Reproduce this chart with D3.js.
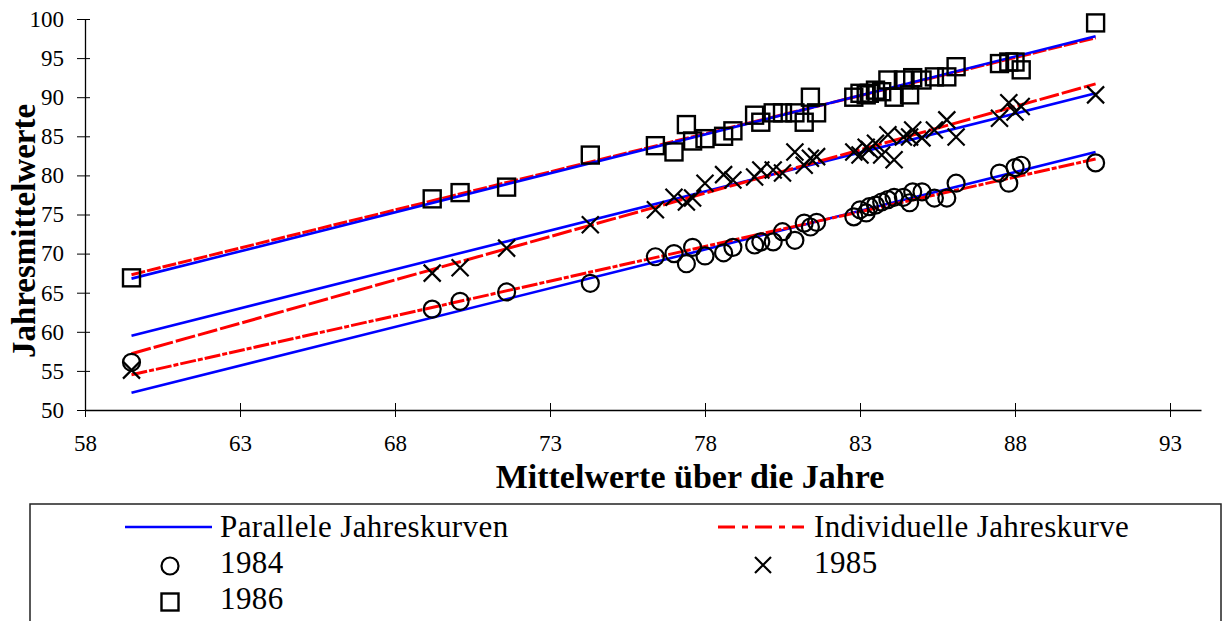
<!DOCTYPE html>
<html>
<head>
<meta charset="utf-8">
<script src="https://cdn.jsdelivr.net/npm/d3@7"></script>
<style>
body { margin: 0; background: #fff; }
svg { display: block; font-family: "Liberation Serif", "Times New Roman", serif; }
</style>
</head>
<body>
<script>
// mean over the years (x) and yearly means (y), one entry per unit
var xMean = [59.5, 69.2, 70.1, 71.6, 74.3, 76.4, 77.0, 77.4, 77.6, 78.0,
    78.6, 78.9, 79.6, 79.8, 80.2, 80.5, 80.9, 81.2, 81.4, 81.6,
    82.8, 83.0, 83.2, 83.3, 83.5, 83.7, 83.9, 84.1, 84.4, 84.6,
    84.7, 85.0, 85.4, 85.8, 86.1, 87.5, 87.8, 88.0, 88.2, 90.6];
var y1984 = [56.1, 62.9, 63.9, 65.1, 66.2, 69.6, 70.0, 68.7, 70.8, 69.7,
    70.1, 70.8, 71.1, 71.5, 71.5, 72.8, 71.7, 73.9, 73.4, 74.0,
    74.7, 75.6, 75.2, 76.0, 76.2, 76.6, 76.9, 77.2, 77.2, 76.5,
    77.9, 77.9, 77.1, 77.1, 79.0, 80.3, 79.0, 81.0, 81.3, 81.6];
var y1985 = [55.1, 67.5, 68.2, 70.7, 73.7, 75.6, 77.2, 76.6, 77.1, 79.0,
    80.1, 79.4, 79.8, 80.7, 80.7, 80.3, 83.0, 81.3, 82.2, 82.4,
    83.0, 82.6, 83.6, 83.3, 84.1, 82.6, 85.2, 82.0, 84.9, 84.9,
    85.8, 84.8, 85.8, 87.1, 84.9, 87.3, 89.3, 88.1, 88.8, 90.3];
var y1986 = [66.9, 77.0, 77.8, 78.5, 82.6, 83.8, 83.0, 86.5, 84.4, 84.7,
    85.0, 85.7, 87.7, 86.8, 88.0, 88.0, 88.0, 86.8, 90.0, 88.0,
    90.0, 90.5, 90.3, 90.5, 90.9, 90.7, 92.2, 90.0, 92.2, 90.3,
    92.5, 92.2, 92.6, 92.6, 93.9, 94.3, 94.5, 94.5, 93.5, 99.5];

var years = ["1984", "1985", "1986"];
var markers = ["circle", "cross", "square"];

// fitted lines, value at the first and at the last x
var fitX = [59.5, 90.6];
var parallelStart = [52.2, 59.5, 66.8];
var parallelEnd = [83.0, 90.5, 97.8];
var individualStart = [54.5, 57.2, 67.3];
var individualEnd = [82.1, 91.7, 97.6];
var individualDash = ["16,2,5,2", "20,3", "14,2"];

var xTicks = [58, 63, 68, 73, 78, 83, 88, 93];
var yTicks = [50, 55, 60, 65, 70, 75, 80, 85, 90, 95, 100];

var width = 1223, height = 621;

var svg = d3.select("body")
    .append("svg")
    .attr("width", width)
    .attr("height", height);

var x = d3.scaleLinear().domain([58, 94]).range([85, 1201]);
var y = d3.scaleLinear().domain([50, 100]).range([410, 19]);

// axes
var xAxis = svg.append("g")
    .attr("transform", "translate(0," + y(50) + ")")
    .call(d3.axisBottom(x).tickValues(xTicks).tickSizeOuter(0).tickSizeInner(7).tickPadding(18).tickFormat(d3.format("d")));
xAxis.selectAll(".tick line").attr("y1", -7).attr("stroke", "#000");
xAxis.select(".domain").attr("stroke", "#000").attr("stroke-width", 1.3);
xAxis.selectAll("text").attr("fill", "#000").style("font-size", "23px").style("font-family", "Liberation Serif");

var yAxis = svg.append("g")
    .attr("transform", "translate(" + x(58) + ",0)")
    .call(d3.axisLeft(y).tickValues(yTicks).tickSizeOuter(0).tickSizeInner(8).tickPadding(13));
yAxis.selectAll(".tick line").attr("x1", 5).attr("stroke", "#000");
yAxis.select(".domain").attr("stroke", "#000").attr("stroke-width", 1.3);
yAxis.selectAll("text").attr("fill", "#000").style("font-size", "23px").style("font-family", "Liberation Serif");

svg.append("text")
    .attr("transform", "translate(35,231) rotate(-90)")
    .attr("text-anchor", "middle")
    .style("font-weight", "bold")
    .style("font-size", "33px")
    .text("Jahresmittelwerte");

svg.append("text")
    .attr("x", 690)
    .attr("y", 488)
    .attr("text-anchor", "middle")
    .style("font-weight", "bold")
    .style("font-size", "34px")
    .text("Mittelwerte über die Jahre");

// fitted lines
var lines = svg.append("g").attr("fill", "none");

years.forEach(function (yr, i) {
    var red = lines.append("line")
        .attr("x1", x(fitX[0])).attr("y1", y(individualStart[i]))
        .attr("x2", x(fitX[1])).attr("y2", y(individualEnd[i]))
        .attr("stroke", "#ff0000")
        .attr("stroke-width", 3)
        .attr("stroke-dasharray", individualDash[i]);
    var blue = lines.append("line")
        .attr("x1", x(fitX[0])).attr("y1", y(parallelStart[i]))
        .attr("x2", x(fitX[1])).attr("y2", y(parallelEnd[i]))
        .attr("stroke", "#0000ff")
        .attr("stroke-width", 2.6);
    // red lies above the blue one for 1984 and 1985
    if (i < 2) red.raise();
});

function drawMarker(g, type, cx, cy, s) {
    if (type === "circle") {
        g.append("circle").attr("cx", cx).attr("cy", cy).attr("r", s)
            .attr("fill", "none").attr("stroke", "#000").attr("stroke-width", 2.2);
    } else if (type === "square") {
        g.append("rect").attr("x", cx - s).attr("y", cy - s)
            .attr("width", 2 * s).attr("height", 2 * s)
            .attr("fill", "none").attr("stroke", "#000").attr("stroke-width", 2.4);
    } else {
        g.append("path")
            .attr("d", "M" + (cx - s) + "," + (cy - s) + "L" + (cx + s) + "," + (cy + s) +
                "M" + (cx - s) + "," + (cy + s) + "L" + (cx + s) + "," + (cy - s))
            .attr("stroke", "#000").attr("stroke-width", 2.2);
    }
}

var points = svg.append("g");
[y1984, y1985, y1986].forEach(function (vals, i) {
    vals.forEach(function (v, j) {
        drawMarker(points, markers[i], x(xMean[j]), y(v), 8.5);
    });
});

// legend
var legend = svg.append("g");
legend.append("rect")
    .attr("x", 30).attr("y", 504)
    .attr("width", 1191).attr("height", 140)
    .attr("fill", "none").attr("stroke", "#222").attr("stroke-width", 1.5);

legend.append("line")
    .attr("x1", 125).attr("x2", 212).attr("y1", 527).attr("y2", 527)
    .attr("stroke", "#0000ff").attr("stroke-width", 2.6);
legend.append("line")
    .attr("x1", 718).attr("x2", 804).attr("y1", 527).attr("y2", 527)
    .attr("stroke", "#ff0000").attr("stroke-width", 3)
    .attr("stroke-dasharray", "17,7,6,7");

var legendText = [
    { x: 220, y: 537, t: "Parallele Jahreskurven" },
    { x: 814, y: 537, t: "Individuelle Jahreskurve" },
    { x: 220, y: 573, t: years[0] },
    { x: 814, y: 573, t: years[1] },
    { x: 220, y: 609, t: years[2] }
];
legend.selectAll("text.lab")
    .data(legendText)
    .enter().append("text")
    .attr("class", "lab")
    .attr("x", function (d) { return d.x; })
    .attr("y", function (d) { return d.y; })
    .style("font-size", "31px")
    .style("letter-spacing", "0.4px")
    .text(function (d) { return d.t; });

drawMarker(legend, "circle", 170, 566, 8.5);
drawMarker(legend, "cross", 763, 565, 8);
drawMarker(legend, "square", 170, 602, 8.5);
</script>
</body>
</html>
